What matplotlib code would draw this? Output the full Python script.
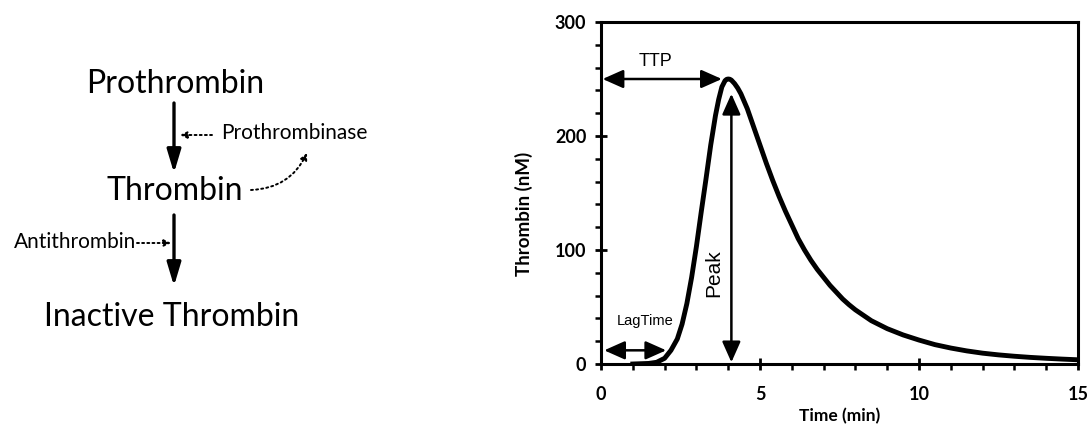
import numpy as np
import matplotlib
matplotlib.use("Agg")
import matplotlib.pyplot as plt
from matplotlib.patches import FancyArrowPatch
from matplotlib.ticker import MultipleLocator

# thrombin generation curve
time_min = [1.0, 1.5, 1.75, 2.0, 2.2, 2.4, 2.55, 2.7, 2.85, 3.0, 3.15, 3.3, 3.45,
            3.6, 3.7, 3.8, 3.9, 3.95, 4.0, 4.05, 4.1, 4.2, 4.3, 4.4, 4.6, 4.8,
            5.0, 5.2, 5.4, 5.6, 5.8, 6.0, 6.2, 6.4, 6.6, 6.8, 7.0, 7.2, 7.4,
            7.6, 7.8, 8.0, 8.5, 9.0, 9.5, 10.0, 10.5, 11.0, 11.5, 12.0, 12.5,
            13.0, 13.5, 14.0, 14.5, 15.0]
thrombin_nm = [0, 0.5, 1.5, 5, 12, 22, 35, 53, 76, 103, 133, 162, 192,
               218, 232, 243, 248.5, 249.7, 250, 249.8, 249, 246, 242, 237, 224, 208,
               192, 176, 161, 147, 134, 122, 110, 100, 91, 83, 76, 69, 63,
               57, 52, 47.5, 38, 31, 25.5, 21, 17, 14, 11.5, 9.5, 8,
               6.8, 5.8, 5, 4.3, 3.7]

ttp = 4.0        # time to peak
peak = 250       # peak height
lag_time = 2.1

chart_font = "Lato"
note_font = "Liberation Sans"

fig = plt.figure(figsize=(10.89, 4.33), dpi=100)

# ---- left: reaction scheme (figure pixel coords) ----
H = 433.0
def px(x, y):
    return (x / 1089.0, (H - y) / H)

big = dict(fontsize=23, family=chart_font, ha="center", va="center")
small = dict(fontsize=15, family=chart_font, va="center")
fig.text(*px(175, 84), "Prothrombin", **big)
fig.text(*px(175, 191), "Thrombin", **big)
fig.text(*px(172, 317), "Inactive Thrombin", **big)
fig.text(*px(221, 133), "Prothrombinase", ha="left", **small)
fig.text(*px(136, 242), "Antithrombin", ha="right", **small)

def fig_arrow(p0, p1, style, lw, ls="-", conn="arc3", scale=12):
    a = FancyArrowPatch(px(*p0), px(*p1), transform=fig.transFigure,
                        arrowstyle=style, mutation_scale=scale, lw=lw,
                        linestyle=ls, color="black", connectionstyle=conn,
                        shrinkA=0, shrinkB=0)
    fig.patches.append(a)

fig_arrow((174, 103), (174, 173), "-|>,head_length=1.0,head_width=0.3", 2.4, scale=14)
fig_arrow((174, 215), (174, 286), "-|>,head_length=1.0,head_width=0.3", 2.4, scale=14)
fig_arrow((212, 135), (180, 135), "-|>,head_length=0.4,head_width=0.2", 1.4, ":", scale=10)
fig_arrow((137, 243), (171, 243), "-|>,head_length=0.4,head_width=0.2", 1.4, ":", scale=10)
fig_arrow((251, 190), (307, 153), "-|>,head_length=0.4,head_width=0.2", 1.4, ":",
          conn="arc3,rad=0.3", scale=10)

# ---- right: thrombin generation curve ----
ax = fig.add_axes([601 / 1089.0, 69 / H, 477 / 1089.0, 342 / H])
ax.plot(time_min, thrombin_nm, color="black", lw=3.5, solid_joinstyle="round")
ax.set_xlim(0, 15)
ax.set_ylim(0, 300)
ax.xaxis.set_major_locator(MultipleLocator(5))
ax.xaxis.set_minor_locator(MultipleLocator(1))
ax.yaxis.set_major_locator(MultipleLocator(100))
ax.yaxis.set_minor_locator(MultipleLocator(20))
for s in ax.spines.values():
    s.set_linewidth(2.2)
ax.tick_params(which="major", direction="inout", length=9, width=2, pad=6)
ax.tick_params(which="minor", direction="out", length=4, width=1.8)
for lab in ax.get_xticklabels() + ax.get_yticklabels():
    lab.set_fontfamily(chart_font)
    lab.set_fontweight("bold")
    lab.set_fontsize(13)
ax.tick_params(axis="x", pad=11)
ax.set_xlabel("Time (min)", fontfamily=chart_font, fontweight="bold", fontsize=12.5)
ax.set_ylabel("Thrombin (nM)", fontfamily=chart_font, fontweight="bold", fontsize=13.5)
ax.xaxis.set_label_coords(0.5, -0.13)
ax.yaxis.set_label_coords(-0.143, 0.44)

def ax_arrow(p0, p1, scale=14):
    a = FancyArrowPatch(p0, p1, arrowstyle="<|-|>,head_length=0.9,head_width=0.4",
                        mutation_scale=scale, lw=1.8, color="black",
                        shrinkA=0, shrinkB=0)
    ax.add_patch(a)

ax_arrow((0.05, peak), (ttp - 0.2, peak))
ax_arrow((ttp + 0.1, 1.5), (ttp + 0.1, peak - 13))
ax_arrow((0.1, 12), (lag_time - 0.05, 12))

ax.text(1.7, 265, "TTP", fontsize=13, family=note_font, ha="center", va="center")
ax.text(3.55, 80, "Peak", fontsize=15, family=note_font, rotation=90,
        ha="center", va="center")
ax.text(1.4, 38, "LagTime", fontsize=10.5, family=note_font, ha="center", va="center")

fig.savefig("out.png", dpi=100)
